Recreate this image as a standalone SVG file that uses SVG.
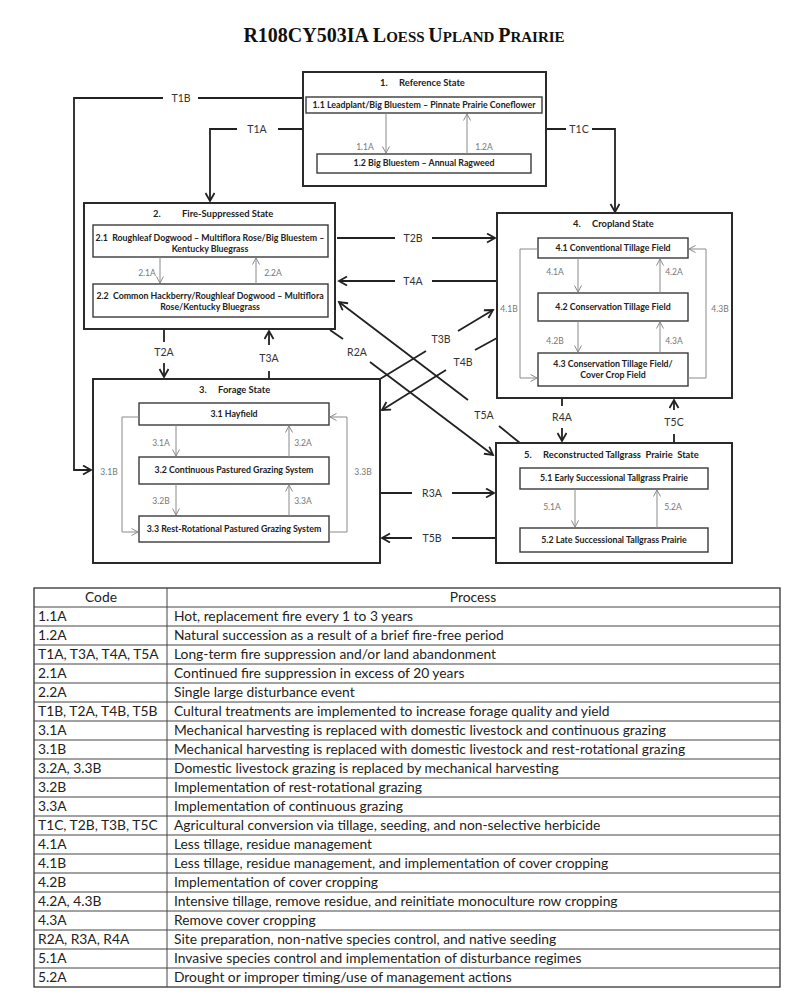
<svg xmlns="http://www.w3.org/2000/svg" width="800" height="1003" viewBox="0 0 800 1003">
<style>
.state{fill:#fff;stroke:#2a2a2a;stroke-width:2}
.phase{fill:#fff;stroke:#3a3a3a;stroke-width:1.4}
.st{font-family:Lato,"Liberation Sans",sans-serif;font-weight:bold;font-size:9.4px;fill:#222}
.ph{font-family:Lato,"Liberation Sans",sans-serif;font-weight:bold;font-size:8.8px;fill:#222;text-anchor:middle}
.pl{font-family:Lato,"Liberation Sans",sans-serif;font-size:8.5px;fill:#777;text-anchor:middle}
.tl{font-family:Lato,"Liberation Sans",sans-serif;font-size:10.5px;fill:#333;text-anchor:middle}
.conn{fill:none;stroke:#222;stroke-width:1.8}
.inner{fill:none;stroke:#8a8a8a;stroke-width:1}
.tbl{font-family:Lato,"Liberation Sans",sans-serif;font-size:13.8px;fill:#222}
.grid{stroke:#444;stroke-width:1}
</style>
<defs>
<marker id="ab" markerUnits="userSpaceOnUse" markerWidth="12" markerHeight="12" refX="9" refY="5" orient="auto">
<path d="M1,0.5 L9,5 L1,9.5" fill="none" stroke="#222" stroke-width="1.8"/>
</marker>
<marker id="ag" markerUnits="userSpaceOnUse" markerWidth="10" markerHeight="10" refX="7" refY="4" orient="auto">
<path d="M0.5,0.5 L7,4 L0.5,7.5" fill="none" stroke="#8a8a8a" stroke-width="1"/>
</marker>
</defs>

<text x="404" y="42" text-anchor="middle" font-family="'Liberation Serif',serif" font-weight="bold" font-size="20" fill="#111">R108CY503IA L<tspan font-size="15">OESS </tspan>U<tspan font-size="15">PLAND </tspan>P<tspan font-size="15">RAIRIE</tspan></text>

<g id="connectors">
<path class="conn" d="M303,98 H198 M163,98 H74 V470 H91" marker-end="url(#ab)"/>
<path class="conn" d="M303,129 H278 M237,129 H210 V201" marker-end="url(#ab)"/>
<path class="conn" d="M546,129 H566 M592,129 H615 V212" marker-end="url(#ab)"/>
<path class="conn" d="M337,238 H395 M432,238 H495" marker-end="url(#ab)"/>
<path class="conn" d="M497,281 H432 M395,281 H339" marker-end="url(#ab)"/>
<path class="conn" d="M164,329 V342 M164,363 V377" marker-end="url(#ab)"/>
<path class="conn" d="M269,379 V371 M269,345 V331" marker-end="url(#ab)"/>
<path class="conn" d="M330,330 L343,339 M370,362 L493,455" marker-end="url(#ab)"/>
<path class="conn" d="M520,443 L499,426 M468,400 L339,302" marker-end="url(#ab)"/>
<path class="conn" d="M380,379 L426,351 M458,331 L493,310" marker-end="url(#ab)"/>
<path class="conn" d="M497,338 L475,350 M446,370 L382,410" marker-end="url(#ab)"/>
<path class="conn" d="M380,493 H412 M452,493 H494" marker-end="url(#ab)"/>
<path class="conn" d="M496,538 H452 M412,538 H382" marker-end="url(#ab)"/>
<path class="conn" d="M562,398 V406 M562,428 V441" marker-end="url(#ab)"/>
<path class="conn" d="M674,443 V434 M674,410 V400" marker-end="url(#ab)"/>
</g>

<g id="state1">
<rect class="state" x="303" y="72" width="243" height="114"/>
<text class="st" x="380" y="86">1.</text><text class="st" x="399" y="86">Reference State</text>
<rect class="phase" x="306" y="97" width="236" height="16"/>
<text class="ph" x="424" y="108" font-size="8.2">1.1 Leadplant/Big Bluestem – Pinnate Prairie Coneflower</text>
<rect class="phase" x="317" y="154" width="214" height="19"/>
<text class="ph" x="424" y="166">1.2 Big Bluestem – Annual Ragweed</text>
<path class="inner" d="M386,113 V153" marker-end="url(#ag)"/>
<path class="inner" d="M467,154 V114" marker-end="url(#ag)"/>
<text class="pl" x="365" y="150">1.1A</text>
<text class="pl" x="484" y="150">1.2A</text>
</g>

<g id="state2">
<rect class="state" x="84" y="203" width="251" height="126"/>
<text class="st" x="153" y="217">2.</text><text class="st" x="182" y="217">Fire-Suppressed State</text>
<rect class="phase" x="93" y="225" width="235" height="32"/>
<text class="ph" x="210" y="241" xml:space="preserve">2.1  Roughleaf Dogwood – Multiflora Rose/Big Bluestem –</text>
<text class="ph" x="210" y="252">Kentucky Bluegrass</text>
<rect class="phase" x="93" y="284" width="235" height="33"/>
<text class="ph" x="210" y="299" xml:space="preserve">2.2  Common Hackberry/Roughleaf Dogwood – Multiflora</text>
<text class="ph" x="210" y="310">Rose/Kentucky Bluegrass</text>
<path class="inner" d="M160,257 V283" marker-end="url(#ag)"/>
<path class="inner" d="M256,284 V258" marker-end="url(#ag)"/>
<text class="pl" x="147" y="276">2.1A</text>
<text class="pl" x="273" y="276">2.2A</text>
</g>

<g id="state3">
<rect class="state" x="93" y="379" width="287" height="184"/>
<text class="st" x="199" y="393">3.</text><text class="st" x="218" y="393">Forage State</text>
<rect class="phase" x="139" y="403" width="190" height="22"/>
<text class="ph" x="234" y="417">3.1 Hayfield</text>
<rect class="phase" x="139" y="457" width="190" height="27"/>
<text class="ph" x="234" y="473">3.2 Continuous Pastured Grazing System</text>
<rect class="phase" x="139" y="516" width="190" height="26"/>
<text class="ph" x="234" y="532">3.3 Rest-Rotational Pastured Grazing System</text>
<path class="inner" d="M176,425 V456" marker-end="url(#ag)"/>
<path class="inner" d="M289,457 V426" marker-end="url(#ag)"/>
<path class="inner" d="M176,484 V515" marker-end="url(#ag)"/>
<path class="inner" d="M289,516 V485" marker-end="url(#ag)"/>
<path class="inner" d="M139,417 H122 V532 H138" marker-end="url(#ag)"/>
<path class="inner" d="M329,532 H347 V417 H330" marker-end="url(#ag)"/>
<text class="pl" x="161" y="446">3.1A</text>
<text class="pl" x="303" y="446">3.2A</text>
<text class="pl" x="161" y="504">3.2B</text>
<text class="pl" x="303" y="504">3.3A</text>
<text class="pl" x="109" y="475">3.1B</text>
<text class="pl" x="363" y="475">3.3B</text>
</g>

<g id="state4">
<rect class="state" x="497" y="213" width="235" height="185"/>
<text class="st" x="573" y="227">4.</text><text class="st" x="592" y="227">Cropland State</text>
<rect class="phase" x="538" y="238" width="150" height="20"/>
<text class="ph" x="613" y="251">4.1 Conventional Tillage Field</text>
<rect class="phase" x="538" y="293" width="150" height="28"/>
<text class="ph" x="613" y="310">4.2 Conservation Tillage Field</text>
<rect class="phase" x="538" y="353" width="150" height="33"/>
<text class="ph" x="613" y="367">4.3 Conservation Tillage Field/</text>
<text class="ph" x="613" y="378">Cover Crop Field</text>
<path class="inner" d="M578,258 V292" marker-end="url(#ag)"/>
<path class="inner" d="M660,293 V259" marker-end="url(#ag)"/>
<path class="inner" d="M578,321 V352" marker-end="url(#ag)"/>
<path class="inner" d="M660,353 V322" marker-end="url(#ag)"/>
<path class="inner" d="M538,249 H520 V378 H537" marker-end="url(#ag)"/>
<path class="inner" d="M688,378 H706 V249 H689" marker-end="url(#ag)"/>
<text class="pl" x="555" y="275">4.1A</text>
<text class="pl" x="674" y="275">4.2A</text>
<text class="pl" x="555" y="344">4.2B</text>
<text class="pl" x="674" y="344">4.3A</text>
<text class="pl" x="509" y="312">4.1B</text>
<text class="pl" x="720" y="312">4.3B</text>
</g>

<g id="state5">
<rect class="state" x="496" y="443" width="236" height="120"/>
<text class="st" x="524" y="458">5.</text><text class="st" x="543" y="458" xml:space="preserve">Reconstructed Tallgrass  Prairie  State</text>
<rect class="phase" x="520" y="468" width="188" height="21"/>
<text class="ph" x="614" y="481">5.1 Early Successional Tallgrass Prairie</text>
<rect class="phase" x="520" y="528" width="188" height="24"/>
<text class="ph" x="614" y="543">5.2 Late Successional Tallgrass Prairie</text>
<path class="inner" d="M575,489 V527" marker-end="url(#ag)"/>
<path class="inner" d="M657,528 V490" marker-end="url(#ag)"/>
<text class="pl" x="552" y="510">5.1A</text>
<text class="pl" x="673" y="510">5.2A</text>
</g>

<g id="transition-labels">
<text class="tl" x="181" y="102">T1B</text>
<text class="tl" x="257" y="133">T1A</text>
<text class="tl" x="579" y="133">T1C</text>
<text class="tl" x="413" y="242">T2B</text>
<text class="tl" x="413" y="285">T4A</text>
<text class="tl" x="164" y="356">T2A</text>
<text class="tl" x="269" y="362">T3A</text>
<text class="tl" x="357" y="356">R2A</text>
<text class="tl" x="441" y="343">T3B</text>
<text class="tl" x="463" y="366">T4B</text>
<text class="tl" x="484" y="419">T5A</text>
<text class="tl" x="432" y="497">R3A</text>
<text class="tl" x="432" y="542">T5B</text>
<text class="tl" x="562" y="421">R4A</text>
<text class="tl" x="674" y="426">T5C</text>
</g>

<g id="table">
<rect x="34" y="588" width="746" height="399" fill="#fff" stroke="#333" stroke-width="1.3"/>
<path class="grid" d="M167,588 V987 M34,607 H780 M34,626 H780 M34,645 H780 M34,664 H780 M34,683 H780 M34,702 H780 M34,721 H780 M34,740 H780 M34,759 H780 M34,778 H780 M34,797 H780 M34,816 H780 M34,835 H780 M34,854 H780 M34,873 H780 M34,892 H780 M34,911 H780 M34,930 H780 M34,949 H780 M34,968 H780"/>
<g class="tbl">
<text x="101" y="602" text-anchor="middle">Code</text>
<text x="473" y="602" text-anchor="middle">Process</text>
<text x="38" y="621">1.1A</text><text x="174" y="621">Hot, replacement fire every 1 to 3 years</text>
<text x="38" y="640">1.2A</text><text x="174" y="640">Natural succession as a result of a brief fire-free period</text>
<text x="38" y="659">T1A, T3A, T4A, T5A</text><text x="174" y="659">Long-term fire suppression and/or land abandonment</text>
<text x="38" y="678">2.1A</text><text x="174" y="678">Continued fire suppression in excess of 20 years</text>
<text x="38" y="697">2.2A</text><text x="174" y="697">Single large disturbance event</text>
<text x="38" y="716">T1B, T2A, T4B, T5B</text><text x="174" y="716">Cultural treatments are implemented to increase forage quality and yield</text>
<text x="38" y="735">3.1A</text><text x="174" y="735">Mechanical harvesting is replaced with domestic livestock and continuous grazing</text>
<text x="38" y="754">3.1B</text><text x="174" y="754">Mechanical harvesting is replaced with domestic livestock and rest-rotational grazing</text>
<text x="38" y="773">3.2A, 3.3B</text><text x="174" y="773">Domestic livestock grazing is replaced by mechanical harvesting</text>
<text x="38" y="792">3.2B</text><text x="174" y="792">Implementation of rest-rotational grazing</text>
<text x="38" y="811">3.3A</text><text x="174" y="811">Implementation of continuous grazing</text>
<text x="38" y="830">T1C, T2B, T3B, T5C</text><text x="174" y="830">Agricultural conversion via tillage, seeding, and non-selective herbicide</text>
<text x="38" y="849">4.1A</text><text x="174" y="849">Less tillage, residue management</text>
<text x="38" y="868">4.1B</text><text x="174" y="868">Less tillage, residue management, and implementation of cover cropping</text>
<text x="38" y="887">4.2B</text><text x="174" y="887">Implementation of cover cropping</text>
<text x="38" y="906">4.2A, 4.3B</text><text x="174" y="906">Intensive tillage, remove residue, and reinitiate monoculture row cropping</text>
<text x="38" y="925">4.3A</text><text x="174" y="925">Remove cover cropping</text>
<text x="38" y="944">R2A, R3A, R4A</text><text x="174" y="944">Site preparation, non-native species control, and native seeding</text>
<text x="38" y="963">5.1A</text><text x="174" y="963">Invasive species control and implementation of disturbance regimes</text>
<text x="38" y="982">5.2A</text><text x="174" y="982">Drought or improper timing/use of management actions</text>
</g>
</g>
</svg>
